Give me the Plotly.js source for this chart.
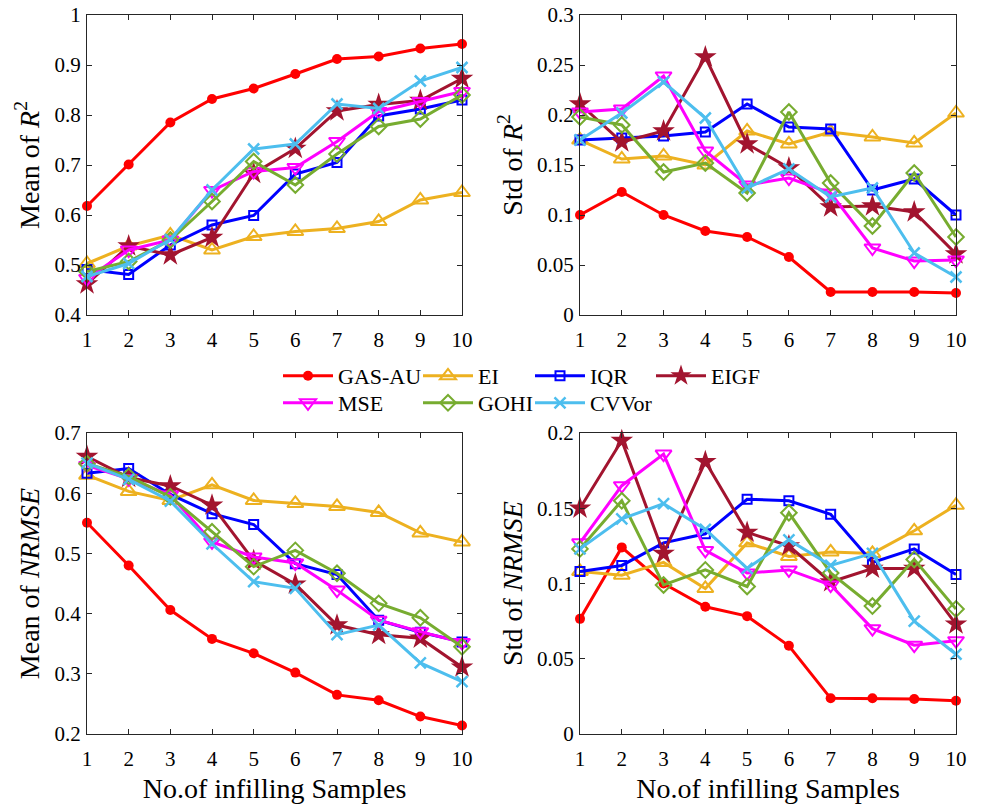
<!DOCTYPE html>
<html>
<head>
<meta charset="utf-8">
<script src="https://cdn.plot.ly/plotly-3.0.1.min.js"></script>
<style>
  html, body { margin: 0; padding: 0; background: #ffffff; }
  #chart { width: 982px; height: 809px; }
</style>
</head>
<body>
<div id="chart"></div>
<script>
// Number of infilling samples (shared x values)
const samples = [1, 2, 3, 4, 5, 6, 7, 8, 9, 10];
const xTickLabels = ['1', '2', '3', '4', '5', '6', '7', '8', '9', '10'];

// Method names, in legend order
const methods = ['GAS-AU', 'EI', 'IQR', 'EIGF', 'MSE', 'GOHI', 'CVVor'];

// Mean of R^2
const meanR2_GASAU = [0.618, 0.701, 0.785, 0.832, 0.853, 0.882, 0.912, 0.917, 0.933, 0.942];
const meanR2_EI    = [0.503, 0.538, 0.560, 0.530, 0.557, 0.567, 0.573, 0.587, 0.630, 0.645];
const meanR2_IQR   = [0.491, 0.481, 0.540, 0.580, 0.599, 0.682, 0.705, 0.798, 0.812, 0.830];
const meanR2_EIGF  = [0.462, 0.538, 0.520, 0.555, 0.683, 0.733, 0.808, 0.821, 0.829, 0.873];
const meanR2_MSE   = [0.473, 0.530, 0.550, 0.649, 0.687, 0.695, 0.747, 0.807, 0.827, 0.847];
const meanR2_GOHI  = [0.487, 0.507, 0.550, 0.627, 0.707, 0.660, 0.722, 0.777, 0.792, 0.840];
const meanR2_CVVor = [0.477, 0.503, 0.551, 0.650, 0.732, 0.742, 0.822, 0.813, 0.868, 0.895];

// Std of R^2
const stdR2_GASAU = [0.100, 0.123, 0.100, 0.084, 0.078, 0.058, 0.023, 0.023, 0.023, 0.022];
const stdR2_EI    = [0.175, 0.156, 0.159, 0.150, 0.184, 0.171, 0.183, 0.178, 0.172, 0.202];
const stdR2_IQR   = [0.175, 0.177, 0.179, 0.183, 0.211, 0.188, 0.186, 0.125, 0.136, 0.100];
const stdR2_EIGF  = [0.211, 0.173, 0.184, 0.258, 0.171, 0.147, 0.108, 0.109, 0.103, 0.061];
const stdR2_MSE   = [0.203, 0.206, 0.239, 0.164, 0.130, 0.137, 0.122, 0.067, 0.054, 0.055];
const stdR2_GOHI  = [0.198, 0.190, 0.143, 0.152, 0.122, 0.203, 0.132, 0.089, 0.142, 0.078];
const stdR2_CVVor = [0.175, 0.202, 0.233, 0.197, 0.127, 0.146, 0.118, 0.127, 0.062, 0.038];

// Mean of NRMSE
const meanN_GASAU = [0.551, 0.480, 0.406, 0.358, 0.334, 0.302, 0.265, 0.256, 0.229, 0.214];
const meanN_EI    = [0.630, 0.603, 0.588, 0.614, 0.588, 0.583, 0.578, 0.568, 0.534, 0.519];
const meanN_IQR   = [0.633, 0.641, 0.598, 0.566, 0.548, 0.483, 0.465, 0.389, 0.369, 0.353];
const meanN_EIGF  = [0.661, 0.626, 0.612, 0.580, 0.488, 0.449, 0.381, 0.365, 0.359, 0.311];
const meanN_MSE   = [0.646, 0.624, 0.597, 0.519, 0.494, 0.484, 0.439, 0.389, 0.370, 0.352];
const meanN_GOHI  = [0.649, 0.628, 0.594, 0.536, 0.478, 0.505, 0.467, 0.417, 0.393, 0.345];
const meanN_CVVor = [0.650, 0.623, 0.587, 0.516, 0.453, 0.442, 0.365, 0.381, 0.318, 0.287];

// Std of NRMSE
const stdN_GASAU = [0.0765, 0.124, 0.100, 0.0845, 0.0783, 0.0586, 0.0237, 0.0237, 0.0232, 0.0221];
const stdN_EI    = [0.108, 0.1055, 0.114, 0.0967, 0.127, 0.118, 0.121, 0.120, 0.135, 0.152];
const stdN_IQR   = [0.108, 0.112, 0.127, 0.133, 0.156, 0.155, 0.146, 0.114, 0.123, 0.106];
const stdN_EIGF  = [0.150, 0.195, 0.120, 0.181, 0.134, 0.125, 0.101, 0.110, 0.110, 0.073];
const stdN_MSE   = [0.127, 0.165, 0.186, 0.122, 0.107, 0.109, 0.099, 0.070, 0.059, 0.062];
const stdN_GOHI  = [0.123, 0.155, 0.099, 0.109, 0.098, 0.147, 0.107, 0.085, 0.116, 0.083];
const stdN_CVVor = [0.123, 0.143, 0.153, 0.136, 0.110, 0.129, 0.112, 0.120, 0.075, 0.053];

const panelData = [
  [meanR2_GASAU, meanR2_EI, meanR2_IQR, meanR2_EIGF, meanR2_MSE, meanR2_GOHI, meanR2_CVVor],
  [stdR2_GASAU, stdR2_EI, stdR2_IQR, stdR2_EIGF, stdR2_MSE, stdR2_GOHI, stdR2_CVVor],
  [meanN_GASAU, meanN_EI, meanN_IQR, meanN_EIGF, meanN_MSE, meanN_GOHI, meanN_CVVor],
  [stdN_GASAU, stdN_EI, stdN_IQR, stdN_EIGF, stdN_MSE, stdN_GOHI, stdN_CVVor]
];

// Line colours and marker styles per method
const colors = ['#FF0000', '#EDB120', '#0000FF', '#A2142F', '#FF00FF', '#77AC30', '#4DBEEE'];
const symbols = ['circle', 'triangle-up-open', 'square-open', 'star', 'triangle-down-open', 'diamond-open', 'x-thin-open'];
const sizes = [10, 14, 9, 17, 14, 12, 11];
const markerLineWidths = [0, 2, 2, 0, 2, 2, 2.5];

// One legend per entry so the 4 + 3 grid lines up in columns
const legendIds = ['legend', 'legend2', 'legend3', 'legend4', 'legend5', 'legend6', 'legend7'];
const legendColX = [278, 418, 530, 651, 278, 418, 530];
const legendRowTop = [355, 355, 355, 355, 382, 382, 382];

const axisPairs = [['x', 'y'], ['x2', 'y2'], ['x3', 'y3'], ['x4', 'y4']];

const traces = [];
panelData.forEach((series, p) => {
  series.forEach((vals, m) => {
    traces.push({
      type: 'scatter',
      mode: 'lines+markers',
      x: samples,
      y: vals,
      name: methods[m],
      xaxis: axisPairs[p][0],
      yaxis: axisPairs[p][1],
      cliponaxis: false,
      showlegend: p === 0,
      legend: legendIds[m],
      line: { color: colors[m], width: 3 },
      marker: {
        symbol: symbols[m],
        size: sizes[m],
        color: colors[m],
        line: { color: colors[m], width: markerLineWidths[m] }
      }
    });
  });
});

const W = 982, H = 809;
const fx = px => px / W;
const fy = px => 1 - px / H;

const fontFam = 'Liberation Serif, Times New Roman, serif';
const axisColor = '#262626';

function xAxis(domain, withTitle) {
  const a = {
    domain: domain,
    range: [1, 10],
    tickmode: 'array',
    tickvals: samples,
    ticktext: xTickLabels,
    ticks: 'inside',
    ticklen: 5,
    tickwidth: 1,
    tickcolor: axisColor,
    showline: true,
    linecolor: axisColor,
    linewidth: 1,
    mirror: 'ticks',
    showgrid: false,
    zeroline: false,
    tickfont: { family: fontFam, size: 21, color: '#000000' },
    ticklabelstandoff: 6
  };
  if (withTitle) {
    a.title = { text: 'No.of infilling Samples', font: { family: fontFam, size: 28, color: '#000000' }, standoff: 8 };
  }
  return a;
}

function yAxis(domain, range, dtick, title) {
  return {
    domain: domain,
    range: range,
    dtick: dtick,
    tick0: 0,
    ticks: 'inside',
    ticklen: 5,
    tickwidth: 1,
    tickcolor: axisColor,
    showline: true,
    linecolor: axisColor,
    linewidth: 1,
    mirror: 'ticks',
    showgrid: false,
    zeroline: false,
    tickfont: { family: fontFam, size: 21, color: '#000000' },
    ticklabelstandoff: 1,
    title: { text: title, font: { family: fontFam, size: 28, color: '#000000' }, standoff: 6 }
  };
}

const leftX = [fx(87), fx(462)];
const rightX = [fx(580), fx(956)];
const topY = [fy(315), fy(15)];
const botY = [fy(734), fy(433)];

function legendAt(px, py) {
  return {
    x: fx(px), y: fy(py), xanchor: 'left', yanchor: 'top',
    orientation: 'v',
    bgcolor: 'rgba(0,0,0,0)',
    borderwidth: 0,
    font: { family: fontFam, size: 22, color: '#000000' },
    itemwidth: 50,
    tracegroupgap: 0
  };
}

const layout = {
  width: W,
  height: H,
  margin: { l: 0, r: 0, t: 0, b: 0 },
  paper_bgcolor: '#ffffff',
  plot_bgcolor: '#ffffff',
  font: { family: fontFam, color: '#000000' },
  xaxis: Object.assign(xAxis(leftX, false), { anchor: 'y' }),
  yaxis: Object.assign(yAxis(topY, [0.4, 1], 0.1, 'Mean of <i>R</i><sup>2</sup>'), { anchor: 'x' }),
  xaxis2: Object.assign(xAxis(rightX, false), { anchor: 'y2' }),
  yaxis2: Object.assign(yAxis(topY, [0, 0.3], 0.05, 'Std of <i>R</i><sup>2</sup>'), { anchor: 'x2' }),
  xaxis3: Object.assign(xAxis(leftX, true), { anchor: 'y3' }),
  yaxis3: Object.assign(yAxis(botY, [0.2, 0.7], 0.1, 'Mean of <i>NRMSE</i>'), { anchor: 'x3' }),
  xaxis4: Object.assign(xAxis(rightX, true), { anchor: 'y4' }),
  yaxis4: Object.assign(yAxis(botY, [0, 0.2], 0.05, 'Std of <i>NRMSE</i>'), { anchor: 'x4' }),
  showlegend: true
};
legendIds.forEach((id, i) => {
  layout[id] = legendAt(legendColX[i], legendRowTop[i]);
});

Plotly.newPlot('chart', traces, layout, { displayModeBar: false, staticPlot: true });
</script>
</body>
</html>
